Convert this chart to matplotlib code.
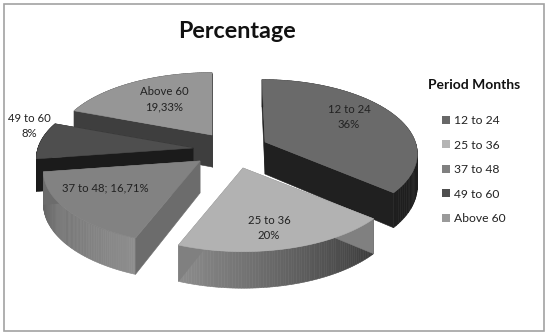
import numpy as np
import matplotlib.pyplot as plt
from matplotlib.patches import Patch, Polygon, Rectangle
from matplotlib.colors import to_rgb

plt.rcParams['font.family'] = ['Lato', 'DejaVu Sans']

# data
categories = ['12 to 24', '25 to 36', '37 to 48', '49 to 60', 'Above 60']
shares = [36, 20, 16.71, 8, 19.33]
slice_labels = ['12 to 24\n36%', '25 to 36\n20%', '37 to 48; 16,71%', '49 to 60\n8%', 'Above 60\n19,33%']

# look of the slices
top_colors = ['#6a6a6a', '#b2b2b2', '#828282', '#4e4e4e', '#969696']
legend_colors = ['#686868', '#b4b4b4', '#808080', '#4e4e4e', '#9a9a9a']
wall_from = ['#1e1e1e', '#3a3a3a', '#8e8e8e', '#1a1a1a', '#3e3e3e']
wall_to = ['#1e1e1e', '#8c8c8c', '#646464', '#1a1a1a', '#3e3e3e']
side_colors = ['#202020', '#808080', '#6c6c6c', '#1b1b1b', '#3e3e3e']
# apex of each exploded slice, in pixels
apex = [(265, 142), (243, 168), (200, 161), (193, 148), (212, 135)]
skew = [3, 0, 0, 0, 0]
x_scale = [0.97, 1, 1, 1, 1]
label_pos = [(349, 117), (269, 228), (105, 188), (29, 126), (164, 99)]

RX, RY, PERSP, DEPTH = 155, 73, 0.145, 32


def project(i, deg, r=1.0):
    t = np.radians(deg)
    x = r * np.sin(t)
    y = -r * np.cos(t)
    s = 1 + PERSP * y
    px = apex[i][0] + RX * x_scale[i] * x * s + skew[i] * y
    py = apex[i][1] + RY * y * s
    return px, py, DEPTH * s


fig = plt.figure(figsize=(5.5, 3.36), dpi=100)
ax = fig.add_axes([0, 0, 1, 1])
ax.set_xlim(0, 550)
ax.set_ylim(336, 0)
ax.axis('off')

ax.add_patch(Rectangle((3.5, 4), 540, 327, fc='white', ec='#a2a2a2', lw=1.2))

ends = np.cumsum(shares) / sum(shares) * 360
starts = ends - np.array(shares) / sum(shares) * 360

# back slices first, front ones over them
for i in [4, 3, 2, 0, 1]:
    ts = np.linspace(starts[i], ends[i], 80)
    px, py, d = project(i, ts)
    c0, c1 = np.array(to_rgb(wall_from[i])), np.array(to_rgb(wall_to[i]))
    # outer wall, in thin strips for the shading
    for k in range(len(ts) - 1):
        col = c0 + (c1 - c0) * k / (len(ts) - 2)
        ax.add_patch(Polygon([(px[k], py[k]), (px[k + 1], py[k + 1]),
                              (px[k + 1], py[k + 1] + d[k + 1]), (px[k], py[k] + d[k])],
                             fc=col, ec=col, lw=0.4))
    # the two cut faces
    ax0, ay0, ad0 = project(i, 0, 0)
    for j in [0, -1]:
        ax.add_patch(Polygon([(ax0, ay0), (px[j], py[j]), (px[j], py[j] + d[j]), (ax0, ay0 + ad0)],
                             fc=side_colors[i], ec=side_colors[i], lw=0.4))
    # top face
    pts = [(ax0, ay0)] + list(zip(px, py))
    ax.add_patch(Polygon(pts, fc=top_colors[i], ec=top_colors[i], lw=0.4))

for lab, (lx, ly) in zip(slice_labels, label_pos):
    ax.text(lx, ly, lab, ha='center', va='center', fontsize=8.2, color='#222222', linespacing=1.45)

ax.text(237, 31, 'Percentage', ha='center', va='center', fontsize=16.8, fontweight='bold', color='#111111')

handles = [Patch(fc=c, ec='none') for c in legend_colors]
leg = ax.legend(handles, categories, loc='upper left', bbox_to_anchor=(0.758, 0.796), frameon=False,
                title='Period Months', fontsize=8.7, labelcolor='#222222',
                title_fontproperties={'weight': 'bold', 'size': 10},
                handlelength=0.65, handleheight=0.65, handletextpad=0.3, labelspacing=1.12)
leg.get_title().set_color('#111111')
leg._legend_box.sep = 17

fig.savefig('out.png', dpi=100)
